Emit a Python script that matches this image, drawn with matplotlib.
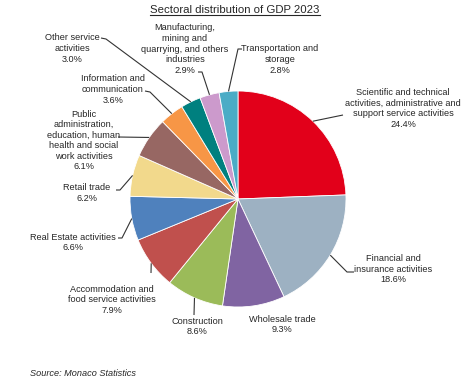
import numpy as np
import matplotlib as mpl
mpl.use('Agg')
import matplotlib.pyplot as plt

plt.rcParams['font.family'] = ['Liberation Sans', 'DejaVu Sans']

# Sector shares of GDP 2023 (%), clockwise from 12 o'clock
sectors = [
    "Scientific and technical\nactivities, administrative and\nsupport service activities",
    "Financial and\ninsurance activities",
    "Wholesale trade",
    "Construction",
    "Accommodation and\nfood service activities",
    "Real Estate activities",
    "Retail trade",
    "Public\nadministration,\neducation, human\nhealth and social\nwork activities",
    "Information and\ncommunication",
    "Other service\nactivities",
    "Manufacturing,\nmining and\nquarrying, and others\nindustries",
    "Transportation and\nstorage",
]
shares = [24.4, 18.6, 9.3, 8.6, 7.9, 6.6, 6.2, 6.1, 3.6, 3.0, 2.9, 2.8]
colors = ['#E2001A', '#9DB1C2', '#8064A2', '#9BBB59', '#C0504D', '#4F81BD',
          '#F2D98C', '#976763', '#F79646', '#00807F', '#CC9ACC', '#4BACC6']

W, H = 468, 380
fig = plt.figure(figsize=(W / 100, H / 100), dpi=100)
ax = fig.add_axes([0, 0, 1, 1])
ax.set_xlim(0, W)
ax.set_ylim(0, H)
ax.set_aspect('equal')
ax.axis('off')

# pixel -> data (y up)
def P(x, y):
    return x, H - y

cx, cy = P(238, 199)
R = 108
wedges, _ = ax.pie(shares, colors=colors, startangle=90, counterclock=False,
                   center=(cx, cy), radius=R, frame=True,
                   wedgeprops=dict(edgecolor='white', linewidth=0.6))
ax.set_xlim(0, W)
ax.set_ylim(0, H)
ax.axis('off')

txt_kw = dict(fontsize=6.6, color='#262626', ha='center', va='center', linespacing=1.22)

# label centre (pixels) and leader path (pixels, from label side towards pie)
layout = [
    ((403, 108.5), [(343, 115)]),
    ((393, 269), [(354, 272), (347, 272)]),
    ((282, 324.5), None),
    ((197, 326.5), [(194, 315)]),
    ((112, 300), [(151, 273)]),
    ((73, 242.5), [(118, 238), (122, 238)]),
    ((87, 193), [(116, 190), (120, 190)]),
    ((84, 140.5), [(118, 137)]),
    ((113, 89.5), [(145, 91), (150, 92)]),
    ((72, 48.5), [(101, 38), (106, 39)]),
    ((185, 49), [(198, 72), (202, 72)]),
    ((280, 59.5), [(242, 49), (238, 49)]),
]

for w, name, val, (pos, path) in zip(wedges, sectors, shares, layout):
    ax.text(*P(*pos), f"{name}\n{val:.1f}%", **txt_kw)
    if path is None:
        continue
    ang = np.deg2rad((w.theta1 + w.theta2) / 2)
    end = (cx + R * np.cos(ang), cy + R * np.sin(ang))
    pts = [P(*p) for p in path] + [end]
    xs, ys = zip(*pts)
    ax.plot(xs, ys, color='#333333', lw=0.8, solid_capstyle='butt')

title = ax.text(*P(235, 10), "Sectoral distribution of GDP 2023", fontsize=8.2,
                color='#262626', ha='center', va='center')
fig.canvas.draw()
bb = title.get_window_extent()
inv = ax.transData.inverted()
(x0, y0), (x1, y1) = inv.transform([(bb.x0, bb.y0), (bb.x1, bb.y0)])
ax.plot([x0, x1], [y0 + 0.5, y1 + 0.5], color='#262626', lw=0.8)

ax.text(*P(30, 374), "Source: Monaco Statistics", fontsize=6.6, style='italic',
        color='#262626', ha='left', va='center')

fig.savefig('out.png', dpi=100)
